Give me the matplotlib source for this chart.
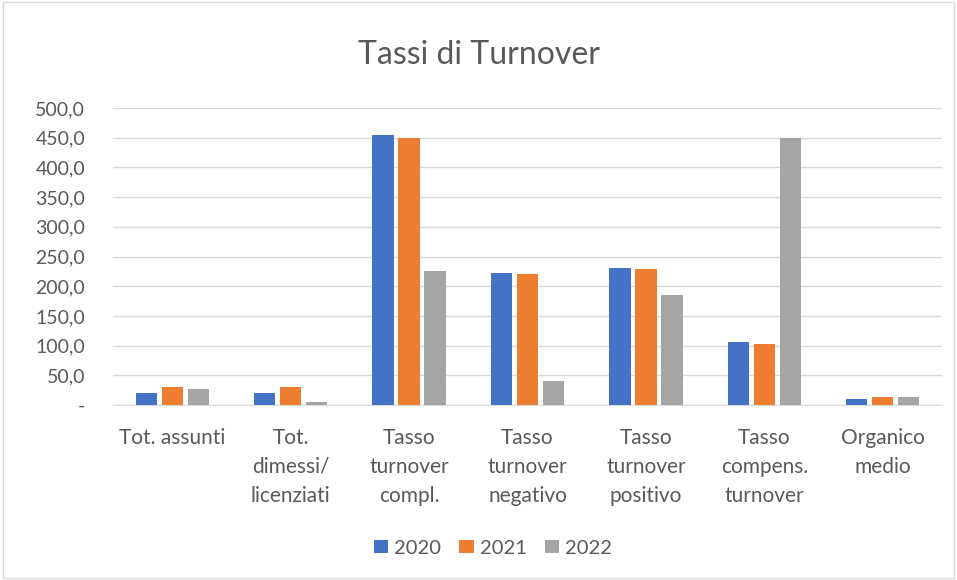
import numpy as np
import matplotlib.pyplot as plt
from matplotlib.ticker import FuncFormatter
from matplotlib.patches import Rectangle

categories = ['Tot. assunti', 'Tot.\ndimessi/\nlicenziati', 'Tasso\nturnover\ncompl.',
              'Tasso\nturnover\nnegativo', 'Tasso\nturnover\npositivo',
              'Tasso\ncompens.\nturnover', 'Organico\nmedio']
years = ['2020', '2021', '2022']
v2020 = [21, 21, 454, 223, 231, 106, 10]
v2021 = [31, 31, 450, 221, 229, 103, 14]
v2022 = [27, 5.5, 226, 40, 185, 450, 14]
colors = ['#4472C4', '#ED7D31', '#A5A5A5']

plt.rcParams['font.family'] = ['Lato', 'DejaVu Sans']
text_col = '#595959'

fig = plt.figure(figsize=(9.57, 5.8), dpi=100)
ax = fig.add_axes([113 / 957, 1 - 405 / 580, 829 / 957, 297 / 580])

# chart border
fig.patches.append(Rectangle((0.003, 0.003), 0.994, 0.994, transform=fig.transFigure,
                             fill=False, edgecolor='#D9D9D9', linewidth=1))

x = np.arange(len(categories))
w = 0.18
step = 0.22
for i, (vals, yr) in enumerate(zip([v2020, v2021, v2022], years)):
    ax.bar(x + (i - 1) * step, vals, width=w, color=colors[i], label=yr, zorder=3)

ax.set_xlim(-0.5, len(categories) - 0.5)
ax.set_ylim(0, 500)
ax.set_yticks(np.arange(0, 501, 50))


def fmt(v, pos):
    if v == 0:
        return '-'
    return f'{v:.1f}'.replace('.', ',')


ax.yaxis.set_major_formatter(FuncFormatter(fmt))
ax.grid(axis='y', color='#D9D9D9', linewidth=1, zorder=0)
for s in ['top', 'right', 'left']:
    ax.spines[s].set_visible(False)
ax.spines['bottom'].set_color('#D9D9D9')
ax.set_xticks(x)
ax.set_xticklabels(categories, linespacing=1.55, va='top')
ax.tick_params(axis='both', length=0, colors=text_col)
ax.tick_params(axis='x', pad=16.5, labelsize=15)
ax.tick_params(axis='y', pad=20, labelsize=14)

fig.text(0.5, 1 - 55 / 580, 'Tassi di Turnover', ha='center', va='center',
         fontsize=23, color=text_col)

fig.legend(loc='center', bbox_to_anchor=(493 / 957, 1 - 548 / 580), ncol=3, frameon=False,
           fontsize=14.5, handlelength=0.7, handleheight=0.6, handletextpad=0.3,
           columnspacing=0.9, labelcolor=text_col)

fig.savefig('out.png', dpi=100)
